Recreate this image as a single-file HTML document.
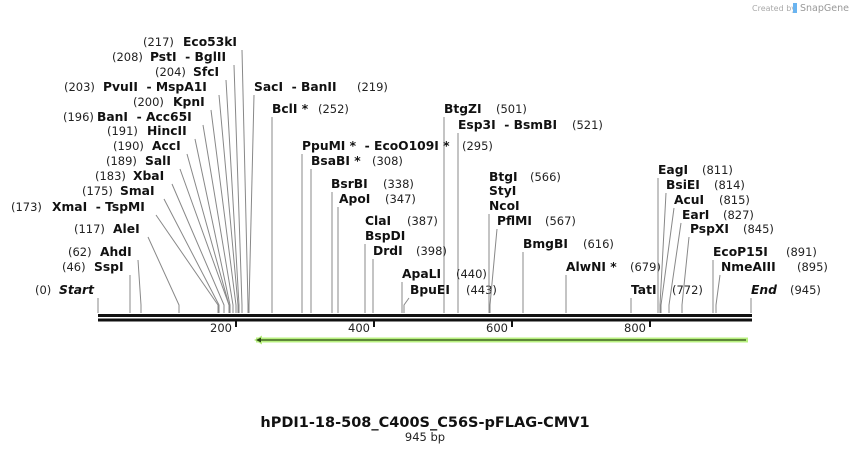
<!DOCTYPE html>
<html><head><meta charset="utf-8"><style>
html,body{margin:0;padding:0;background:#fff;}
svg{display:block;font-family:"DejaVu Sans","Liberation Sans",sans-serif;}
text{white-space:pre;}
.n{font-size:11.5px;fill:#222;}
.b{font-size:12.3px;font-weight:bold;fill:#111;}
.l{stroke:#888;stroke-width:1;fill:none;}
</style></head><body>
<svg width="850" height="453" viewBox="0 0 850 453">
<text x="752" y="11" font-size="8" fill="#aaa">Created by</text>
<rect x="793" y="3" width="4" height="10" fill="#6ab4f0"/>
<text x="800" y="11" font-size="9.5" fill="#999">SnapGene</text>

<g>
<text x="143" y="46" class="n">(217)</text><text x="183" y="46" class="b">Eco53kI</text>
<polyline class="l" points="242,50 248,305 248,313"/>
<text x="112" y="61" class="n">(208)</text><text x="150" y="61" class="b">PstI  - BglII</text>
<polyline class="l" points="234,65 242,305 242,313"/>
<text x="155" y="76" class="n">(204)</text><text x="193" y="76" class="b">SfcI</text>
<polyline class="l" points="226,80 239,305 239,313"/>
<text x="64" y="91" class="n">(203)</text><text x="103" y="91" class="b">PvuII  - MspA1I</text>
<polyline class="l" points="219,95 238,305 238,313"/>
<text x="133" y="106" class="n">(200)</text><text x="173" y="106" class="b">KpnI</text>
<polyline class="l" points="211,110 236,305 236,313"/>
<text x="63" y="121" class="n">(196)</text><text x="97" y="121" class="b">BanI  - Acc65I</text>
<polyline class="l" points="203,125 233,305 233,313"/>
<text x="107" y="135" class="n">(191)</text><text x="147" y="135" class="b">HincII</text>
<polyline class="l" points="195,139 230,305 230,313"/>
<text x="113" y="150" class="n">(190)</text><text x="152" y="150" class="b">AccI</text>
<polyline class="l" points="187,154 229,305 229,313"/>
<text x="106" y="165" class="n">(189)</text><text x="145" y="165" class="b">SalI</text>
<polyline class="l" points="180,169 229,305 229,313"/>
<text x="95" y="180" class="n">(183)</text><text x="133" y="180" class="b">XbaI</text>
<polyline class="l" points="172,184 224,305 224,313"/>
<text x="82" y="195" class="n">(175)</text><text x="120" y="195" class="b">SmaI</text>
<polyline class="l" points="164,199 219,305 219,313"/>
<text x="11" y="211" class="n">(173)</text><text x="52" y="211" class="b">XmaI  - TspMI</text>
<polyline class="l" points="156,215 218,305 218,313"/>
<text x="74" y="233" class="n">(117)</text><text x="113" y="233" class="b">AleI</text>
<polyline class="l" points="148,237 179,305 179,313"/>
<text x="68" y="256" class="n">(62)</text><text x="100" y="256" class="b">AhdI</text>
<polyline class="l" points="138,260 141,305 141,313"/>
<text x="62" y="271" class="n">(46)</text><text x="94" y="271" class="b">SspI</text>
<polyline class="l" points="130,275 130,313"/>
<text x="35" y="294" class="n">(0)</text><text x="59" y="294" class="b" font-style="italic">Start</text>
<polyline class="l" points="98,298 98,313"/>
</g>

<g>
<text x="254" y="91" class="b">SacI  - BanII</text><text x="357" y="91" class="n">(219)</text>
<polyline class="l" points="254,95 249,305 249,313"/>
<text x="272" y="113" class="b">BclI *</text><text x="318" y="113" class="n">(252)</text>
<polyline class="l" points="272,117 272,313"/>
<text x="444" y="113" class="b">BtgZI</text><text x="496" y="113" class="n">(501)</text>
<polyline class="l" points="444,117 444,313"/>
<text x="458" y="129" class="b">Esp3I  - BsmBI</text><text x="572" y="129" class="n">(521)</text>
<polyline class="l" points="458,133 458,313"/>
<text x="302" y="150" class="b">PpuMI *  - EcoO109I *</text><text x="462" y="150" class="n">(295)</text>
<polyline class="l" points="302,154 302,313"/>
<text x="311" y="165" class="b">BsaBI *</text><text x="372" y="165" class="n">(308)</text>
<polyline class="l" points="311,169 311,313"/>
<text x="331" y="188" class="b">BsrBI</text><text x="383" y="188" class="n">(338)</text>
<polyline class="l" points="332,192 332,313"/>
<text x="339" y="203" class="b">ApoI</text><text x="385" y="203" class="n">(347)</text>
<polyline class="l" points="338,207 338,313"/>
<text x="365" y="225" class="b">ClaI</text><text x="407" y="225" class="n">(387)</text>
<text x="365" y="240" class="b">BspDI</text>
<polyline class="l" points="365,244 365,313"/>
<text x="373" y="255" class="b">DrdI</text><text x="416" y="255" class="n">(398)</text>
<polyline class="l" points="373,259 373,313"/>
<text x="402" y="278" class="b">ApaLI</text><text x="456" y="278" class="n">(440)</text>
<polyline class="l" points="402,282 402,313"/>
<text x="410" y="294" class="b">BpuEI</text><text x="466" y="294" class="n">(443)</text>
<polyline class="l" points="409,298 404,305 404,313"/>
<text x="489" y="181" class="b">BtgI</text><text x="530" y="181" class="n">(566)</text>
<text x="489" y="195" class="b">StyI</text>
<text x="489" y="210" class="b">NcoI</text>
<polyline class="l" points="489,214 489,313"/>
<text x="497" y="225" class="b">PflMI</text><text x="545" y="225" class="n">(567)</text>
<polyline class="l" points="497,229 490,305 490,313"/>
<text x="523" y="248" class="b">BmgBI</text><text x="583" y="248" class="n">(616)</text>
<polyline class="l" points="523,252 523,313"/>
<text x="566" y="271" class="b">AlwNI *</text><text x="630" y="271" class="n">(679)</text>
<polyline class="l" points="566,275 566,313"/>
<text x="631" y="294" class="b">TatI</text><text x="672" y="294" class="n">(772)</text>
<polyline class="l" points="631,298 631,313"/>
<text x="658" y="174" class="b">EagI</text><text x="702" y="174" class="n">(811)</text>
<polyline class="l" points="658,178 658,313"/>
<text x="666" y="189" class="b">BsiEI</text><text x="714" y="189" class="n">(814)</text>
<polyline class="l" points="666,193 660,305 660,313"/>
<text x="674" y="204" class="b">AcuI</text><text x="719" y="204" class="n">(815)</text>
<polyline class="l" points="674,208 661,305 661,313"/>
<text x="682" y="219" class="b">EarI</text><text x="723" y="219" class="n">(827)</text>
<polyline class="l" points="681,223 669,305 669,313"/>
<text x="690" y="233" class="b">PspXI</text><text x="743" y="233" class="n">(845)</text>
<polyline class="l" points="689,237 682,305 682,313"/>
<text x="713" y="256" class="b">EcoP15I</text><text x="786" y="256" class="n">(891)</text>
<polyline class="l" points="713,260 713,313"/>
<text x="721" y="271" class="b">NmeAIII</text><text x="797" y="271" class="n">(895)</text>
<polyline class="l" points="720,275 716,305 716,313"/>
<text x="751" y="294" class="b" font-style="italic">End</text><text x="790" y="294" class="n">(945)</text>
<polyline class="l" points="751,298 751,313"/>
</g>

<rect x="98" y="314" width="654" height="3" fill="#111"/>
<rect x="98" y="318.5" width="654" height="3" fill="#111"/>
<g fill="#111">
<rect x="235" y="321" width="2" height="6"/>
<rect x="373" y="321" width="2" height="6"/>
<rect x="511" y="321" width="2" height="6"/>
<rect x="649" y="321" width="2" height="6"/>
</g>
<g font-size="11.5" fill="#222" text-anchor="end">
<text x="232" y="332">200</text>
<text x="370" y="332">400</text>
<text x="508" y="332">600</text>
<text x="646" y="332">800</text>
</g>

<rect x="256" y="337.5" width="492" height="5" fill="#b8f080"/>
<polygon points="254,340 262,335.5 262,344.5" fill="#b8f080"/>
<line x1="258" y1="340" x2="746" y2="340" stroke="#2a4a10" stroke-width="1.2"/>
<polygon points="256,340 261,337.5 261,342.5" fill="#2a4a10"/>

<text x="425" y="427" text-anchor="middle" font-size="14.5" font-weight="bold" fill="#111">hPDI1-18-508_C400S_C56S-pFLAG-CMV1</text>
<text x="425" y="441" text-anchor="middle" font-size="11.5" fill="#222">945 bp</text>
</svg>
</body></html>
